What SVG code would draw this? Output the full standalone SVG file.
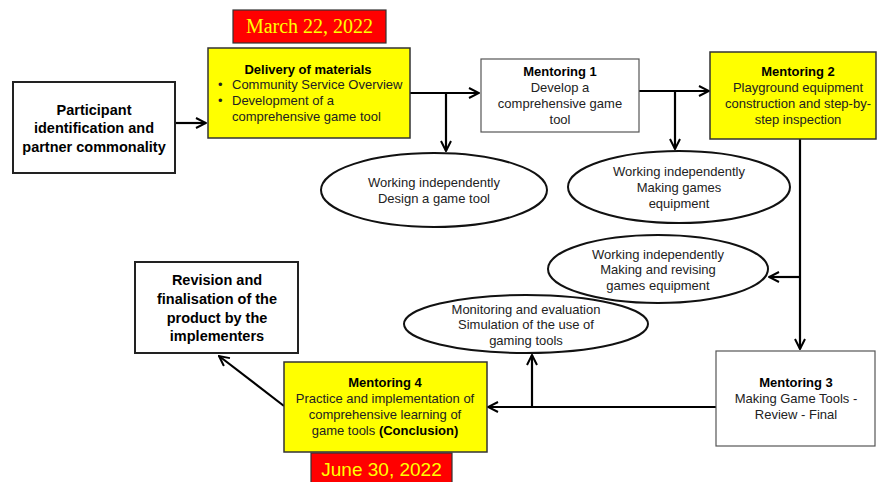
<svg xmlns="http://www.w3.org/2000/svg" width="877" height="482" viewBox="0 0 877 482">
<defs>
<marker id="ah" viewBox="0 0 12 12" refX="11" refY="6" markerWidth="12" markerHeight="12" markerUnits="userSpaceOnUse" orient="auto">
<path d="M1,1 L11,6 L1,11" fill="none" stroke="#000" stroke-width="2"/>
</marker>
<style>
.t{font-family:"Liberation Sans",Arial,sans-serif;font-size:13px;fill:#222;text-anchor:middle}
.b{font-weight:bold;fill:#000}
.bb{font-family:"Liberation Sans",Arial,sans-serif;font-size:14.5px;font-weight:bold;fill:#000;text-anchor:middle}
.yel{fill:#ffff00;stroke:#333;stroke-width:1.5}
.wht{fill:#fff;stroke:#555;stroke-width:1.2}
.wbk{fill:#fff;stroke:#222;stroke-width:2}
.red{fill:#ff0000;stroke:#333;stroke-width:1.2}
.ell{fill:#fff;stroke:#111;stroke-width:2}
.c{fill:none;stroke:#000;stroke-width:2.2}
</style>
</defs>
<rect width="877" height="482" fill="#fff"/>
<g id="connectors">
<path class="c" d="M175,123 H206" marker-end="url(#ah)"/>
<path class="c" d="M410,93 H479" marker-end="url(#ah)"/>
<path class="c" d="M446,93 V151" marker-end="url(#ah)"/>
<path class="c" d="M639,91 H709" marker-end="url(#ah)"/>
<path class="c" d="M675,91 V149" marker-end="url(#ah)"/>
<path class="c" d="M800,139 V349" marker-end="url(#ah)"/>
<path class="c" d="M800,277 H769" marker-end="url(#ah)"/>
<path class="c" d="M716,407 H488" marker-end="url(#ah)"/>
<path class="c" d="M532,407 V355" marker-end="url(#ah)"/>
<path class="c" d="M284,406 L219,356" marker-end="url(#ah)"/>
</g>
<g id="date1">
<rect class="red" x="233" y="10" width="153" height="33"/>
<text x="309.5" y="33" font-family="'Liberation Serif','Times New Roman',serif" font-size="20" fill="#ffff00" text-anchor="middle">March 22, 2022</text>
</g>
<g id="participant">
<rect class="wbk" x="13" y="82" width="162" height="91"/>
<text class="bb" x="94" y="115">Participant</text>
<text class="bb" x="94" y="133">identification and</text>
<text class="bb" x="94" y="152">partner commonality</text>
</g>
<g id="delivery">
<rect class="yel" x="208" y="48" width="202" height="90"/>
<text class="t b" x="308" y="74">Delivery of materials</text>
<text class="t" x="218" y="89" style="text-anchor:start">•</text>
<text class="t" x="232" y="89" style="text-anchor:start">Community Service Overview</text>
<text class="t" x="218" y="105" style="text-anchor:start">•</text>
<text class="t" x="232" y="105" style="text-anchor:start">Development  of a</text>
<text class="t" x="232" y="121" style="text-anchor:start">comprehensive game tool</text>
</g>
<g id="mentoring1">
<rect class="wht" x="481" y="59" width="158" height="73"/>
<text class="t b" x="560" y="76">Mentoring 1</text>
<text class="t" x="560" y="92">Develop a</text>
<text class="t" x="560" y="108">comprehensive game</text>
<text class="t" x="560" y="124">tool</text>
</g>
<g id="mentoring2">
<rect class="yel" x="710" y="52" width="166" height="87"/>
<text class="t b" x="798" y="76">Mentoring 2</text>
<text class="t" x="798" y="92">Playground equipment</text>
<text class="t" x="798" y="108">construction and step-by-</text>
<text class="t" x="798" y="124">step inspection</text>
</g>
<g id="ellipse1">
<ellipse class="ell" cx="434" cy="190" rx="113" ry="37"/>
<text class="t" x="434" y="187">Working independently</text>
<text class="t" x="434" y="203">Design a game tool</text>
</g>
<g id="ellipse2">
<ellipse class="ell" cx="679" cy="187" rx="111" ry="36"/>
<text class="t" x="679" y="176">Working independently</text>
<text class="t" x="679" y="192">Making games</text>
<text class="t" x="679" y="208">equipment</text>
</g>
<g id="ellipse3">
<ellipse class="ell" cx="658" cy="269" rx="110" ry="34"/>
<text class="t" x="658" y="259">Working independently</text>
<text class="t" x="658" y="274">Making and revising</text>
<text class="t" x="658" y="290">games equipment</text>
</g>
<g id="ellipse4">
<ellipse class="ell" cx="526" cy="324" rx="122" ry="29"/>
<text class="t" x="526" y="314">Monitoring and evaluation</text>
<text class="t" x="526" y="329">Simulation of the use of</text>
<text class="t" x="526" y="345">gaming tools</text>
</g>
<g id="mentoring3">
<rect class="wht" x="716" y="351" width="159" height="95"/>
<text class="t b" x="796" y="387">Mentoring 3</text>
<text class="t" x="796" y="403">Making Game Tools -</text>
<text class="t" x="796" y="419">Review - Final</text>
</g>
<g id="mentoring4">
<rect class="yel" x="284" y="362" width="203" height="90"/>
<text class="t b" x="385" y="387">Mentoring 4</text>
<text class="t" x="385" y="403">Practice and implementation of</text>
<text class="t" x="385" y="419">comprehensive learning of</text>
<text class="t" x="385" y="435">game tools <tspan class="b">(Conclusion)</tspan></text>
</g>
<g id="date2">
<rect class="red" x="311" y="453" width="141" height="32"/>
<text x="381.5" y="476" font-family="'Liberation Sans',Arial,sans-serif" font-size="19" fill="#ffff00" text-anchor="middle">June 30, 2022</text>
</g>
<g id="revision">
<rect class="wbk" x="135" y="262" width="163" height="91"/>
<text class="bb" x="217" y="285">Revision and</text>
<text class="bb" x="217" y="304">finalisation of the</text>
<text class="bb" x="217" y="323">product by the</text>
<text class="bb" x="217" y="341">implementers</text>
</g>
</svg>
